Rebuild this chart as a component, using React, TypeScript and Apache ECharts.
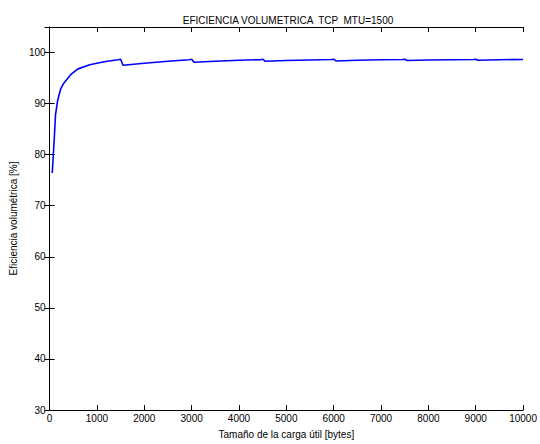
import React, { useEffect, useRef } from "react";
import * as echarts from "echarts";

const payloadBytes = [56, 100, 125, 170, 235, 300, 450, 600, 850, 1150, 1450, 1500, 1550, 2000, 2500, 2950, 3000, 3050, 3500, 4000, 4450, 4500, 4550, 5000, 5500, 5950, 6000, 6050, 6500, 7000, 7450, 7500, 7550, 8000, 8500, 8950, 9000, 9050, 9500, 10000];
const efficiency = [76.4, 83.3, 87.8, 90.6, 92.9, 94.0, 95.7, 96.8, 97.6, 98.2, 98.6, 98.7, 97.5, 97.9, 98.3, 98.6, 98.7, 98.1, 98.3, 98.5, 98.6, 98.7, 98.3, 98.45, 98.55, 98.65, 98.7, 98.35, 98.5, 98.6, 98.65, 98.7, 98.45, 98.55, 98.6, 98.65, 98.7, 98.5, 98.6, 98.65];

const titleText = "EFICIENCIA VOLUMETRICA  TCP  MTU=1500";
const xName = "Tamaño de la carga útil [bytes]";
const yName = "Eficiencia volumétrica [%]";

const FONT = "Liberation Sans, Arial, Helvetica, sans-serif";

export default function App() {
  const ref = useRef<HTMLDivElement>(null);
  useEffect(() => {
    if (!ref.current) return;
    const chart = echarts.init(ref.current, null, { renderer: "svg" });
    const axisLine = { show: true, lineStyle: { color: "#000", width: 1 } };
    const tick = { show: true, inside: true, length: 5, lineStyle: { color: "#000" } };
    chart.setOption({
      animation: false,
      backgroundColor: "#fff",
      title: {
        text: titleText,
        left: 283,
        top: 10,
        textAlign: "center",
        textStyle: { fontFamily: FONT, fontSize: 10, fontWeight: "normal", color: "#000" },
      },
      grid: { left: 46, right: 14, top: 27, bottom: 27, containLabel: false },
      xAxis: [
        {
          type: "value",
          min: 0,
          max: 10000,
          interval: 1000,
          position: "bottom",
          name: xName,
          nameLocation: "middle",
          nameGap: 19,
          nameTextStyle: { fontFamily: FONT, fontSize: 10, color: "#000" },
          axisLine,
          axisTick: tick,
          splitLine: { show: false },
          axisLabel: { fontFamily: FONT, fontSize: 10, color: "#000", margin: 3, formatter: (v: number) => String(v) },
        },
        {
          type: "value",
          min: 0,
          max: 10000,
          interval: 1000,
          position: "top",
          axisLine,
          axisTick: tick,
          splitLine: { show: false },
          axisLabel: { show: false },
        },
      ],
      yAxis: [
        {
          type: "value",
          min: 30,
          max: 105,
          interval: 10,
          position: "left",
          name: yName,
          nameLocation: "middle",
          nameGap: 29,
          nameRotate: 90,
          nameTextStyle: { fontFamily: FONT, fontSize: 10, color: "#000" },
          axisLine,
          axisTick: tick,
          splitLine: { show: false },
          axisLabel: {
            fontFamily: FONT,
            fontSize: 10,
            color: "#000",
            margin: 4,
            formatter: (v: number) => (v > 100 ? "" : String(v)),
          },
        },
        {
          type: "value",
          min: 30,
          max: 105,
          interval: 10,
          position: "right",
          axisLine,
          axisTick: tick,
          splitLine: { show: false },
          axisLabel: { show: false },
        },
      ],
      series: [
        {
          type: "line",
          data: payloadBytes.map((x, i) => [x, efficiency[i]]),
          showSymbol: false,
          symbol: "none",
          lineStyle: { color: "#0000ff", width: 1.6 },
          xAxisIndex: 0,
          yAxisIndex: 0,
        },
      ],
    });
    return () => chart.dispose();
  }, []);
  return <div ref={ref} style={{ width: 540, height: 444, position: "absolute", left: 0, top: 0 }} />;
}
